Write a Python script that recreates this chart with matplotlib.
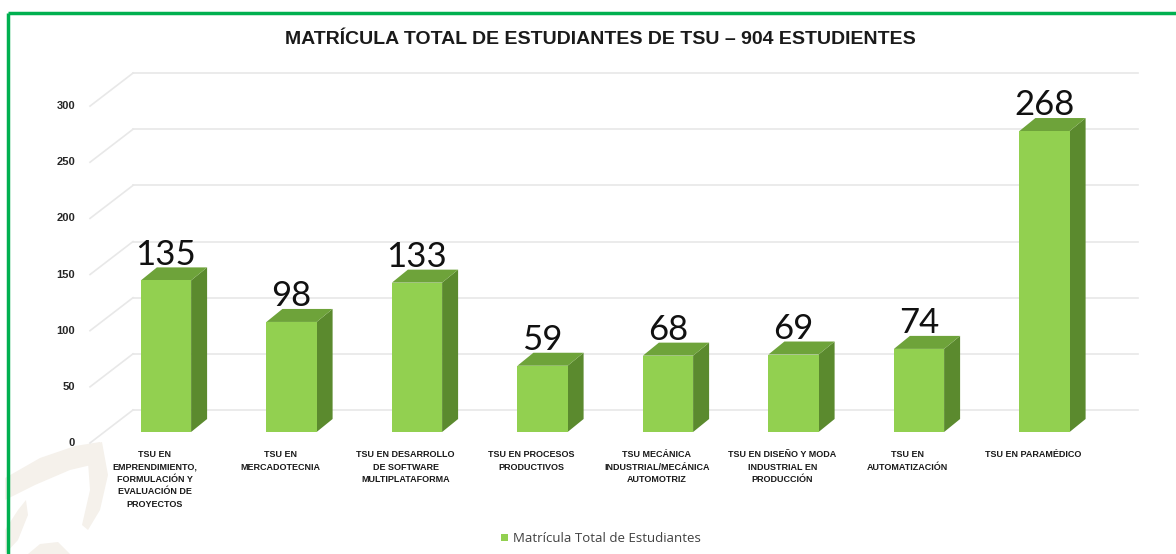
import matplotlib
matplotlib.use("Agg")
import matplotlib.pyplot as plt
from matplotlib.patches import Polygon, Rectangle
from matplotlib.transforms import blended_transform_factory
import numpy as np

categories = [
    "TSU EN\nEMPRENDIMIENTO,\nFORMULACIÓN Y\nEVALUACIÓN DE\nPROYECTOS",
    "TSU EN\nMERCADOTECNIA",
    "TSU EN DESARROLLO\nDE SOFTWARE\nMULTIPLATAFORMA",
    "TSU EN PROCESOS\nPRODUCTIVOS",
    "TSU MECÁNICA\nINDUSTRIAL/MECÁNICA\nAUTOMOTRIZ",
    "TSU EN DISEÑO Y MODA\nINDUSTRIAL EN\nPRODUCCIÓN",
    "TSU EN\nAUTOMATIZACIÓN",
    "TSU EN PARAMÉDICO",
]
values = [135, 98, 133, 59, 68, 69, 74, 268]
yticks = [0, 50, 100, 150, 200, 250, 300]
title = "MATRÍCULA TOTAL DE ESTUDIANTES DE TSU – 904 ESTUDIENTES"
legend_label = "Matrícula Total de Estudiantes"

FRONT = "#92D050"
SIDE = "#5B8A2E"
TOP = "#6EA33A"
GRID = "#E8E8E8"
BORDER = "#00B050"

narrow = ["Liberation Sans Narrow", "Liberation Sans", "DejaVu Sans"]

W, H = 1176, 554
fig = plt.figure(figsize=(W / 100, H / 100), dpi=100)
fig.patch.set_facecolor("white")

# decorative watermark shapes (light beige)
wm = fig.add_axes([0, 0, 1, 1], zorder=0)
wm.set_xlim(0, W); wm.set_ylim(H, 0); wm.axis("off")
BEIGE = "#F5F1EB"
wm.add_patch(Polygon([[5, 478], [40, 458], [75, 446], [100, 442], [104, 462], [70, 470], [35, 485], [5, 500]],
                     closed=True, color=BEIGE, lw=0))
wm.add_patch(Polygon([[80, 448], [102, 442], [108, 475], [100, 510], [88, 530], [82, 525], [90, 490], [88, 462]],
                     closed=True, color=BEIGE, lw=0))
wm.add_patch(Polygon([[5, 530], [18, 510], [26, 500], [28, 515], [18, 540], [5, 554]],
                     closed=True, color=BEIGE, lw=0))
wm.add_patch(Polygon([[28, 554], [40, 544], [58, 542], [70, 554]],
                     closed=True, color=BEIGE, lw=0))
# green border
wm.plot([8, 8], [554, 13], color=BORDER, lw=2.5, solid_capstyle="butt")
wm.plot([8, 1176], [13, 13], color=BORDER, lw=2.5, solid_capstyle="butt")

# main axes: x in category units (125.5 px), y in value units (1.123 px)
xpx, ypx = 125.5, 1.123
x0px, y0px = 166, 432
xl, xr = -1.2, 7.95
yb, yt = -20, 330
left = x0px + xl * xpx
right = x0px + xr * xpx
bottom = y0px - yb * ypx
top = y0px - yt * ypx
ax = fig.add_axes([left / W, (H - bottom) / H, (right - left) / W, (bottom - top) / H], zorder=1)
ax.set_xlim(xl, xr); ax.set_ylim(yb, yt)
ax.axis("off")

back_dx = (133 - x0px) / xpx   # back wall left edge
back_right = (1138 - x0px) / xpx
back_dy = 22 / ypx
front_x = (90 - x0px) / xpx
front_dy = -11 / ypx

for v in yticks:
    ax.plot([back_dx, back_right], [v + back_dy, v + back_dy], color=GRID, lw=1.2, zorder=1)
    ax.plot([front_x, back_dx], [v + front_dy, v + back_dy], color=GRID, lw=1.2, zorder=1)
    ax.text(front_x - 0.12, v + front_dy, str(v), ha="right", va="center",
            fontsize=8, fontweight="bold", color="#262626", family=narrow)

bw = 0.4
ddx = 16 / xpx
ddy = 13 / ypx
for i, v in enumerate(values):
    xl_ = i - bw / 2
    xr_ = i + bw / 2
    ax.add_patch(Polygon([[xr_, 0], [xr_ + ddx, ddy], [xr_ + ddx, v + ddy], [xr_, v]],
                         closed=True, facecolor=SIDE, edgecolor="none", zorder=3))
    ax.add_patch(Polygon([[xl_, v], [xr_, v], [xr_ + ddx, v + ddy], [xl_ + ddx, v + ddy]],
                         closed=True, facecolor=TOP, edgecolor="none", zorder=3))
    ax.add_patch(Rectangle((xl_, 0), bw, v, facecolor=FRONT, edgecolor="none", zorder=4))
    ax.text(i, v + 14, str(v), ha="center", va="baseline", fontsize=25,
            family=["Lato", "DejaVu Sans"], color="#111111", zorder=5)

trans = blended_transform_factory(ax.transData, fig.transFigure)
for i, c in enumerate(categories):
    ax.text(i - 0.09, (H - 450) / H, c, transform=trans, ha="center", va="top",
            fontsize=6.5, fontweight="bold", family=narrow, color="#1a1a1a",
            linespacing=1.5)

fig.text(600 / W, (H - 40) / H, title, ha="center", va="center", fontsize=14,
         fontweight="bold", family=narrow, color="#1a1a1a")

# legend
wm.add_patch(Rectangle((501, 534), 7, 7, facecolor=FRONT, edgecolor="none"))
wm.text(513, 538, legend_label, ha="left", va="center", fontsize=9.5,
        family=["Open Sans", "DejaVu Sans"], color="#404040")

fig.savefig("out.png", dpi=100, facecolor="white")
